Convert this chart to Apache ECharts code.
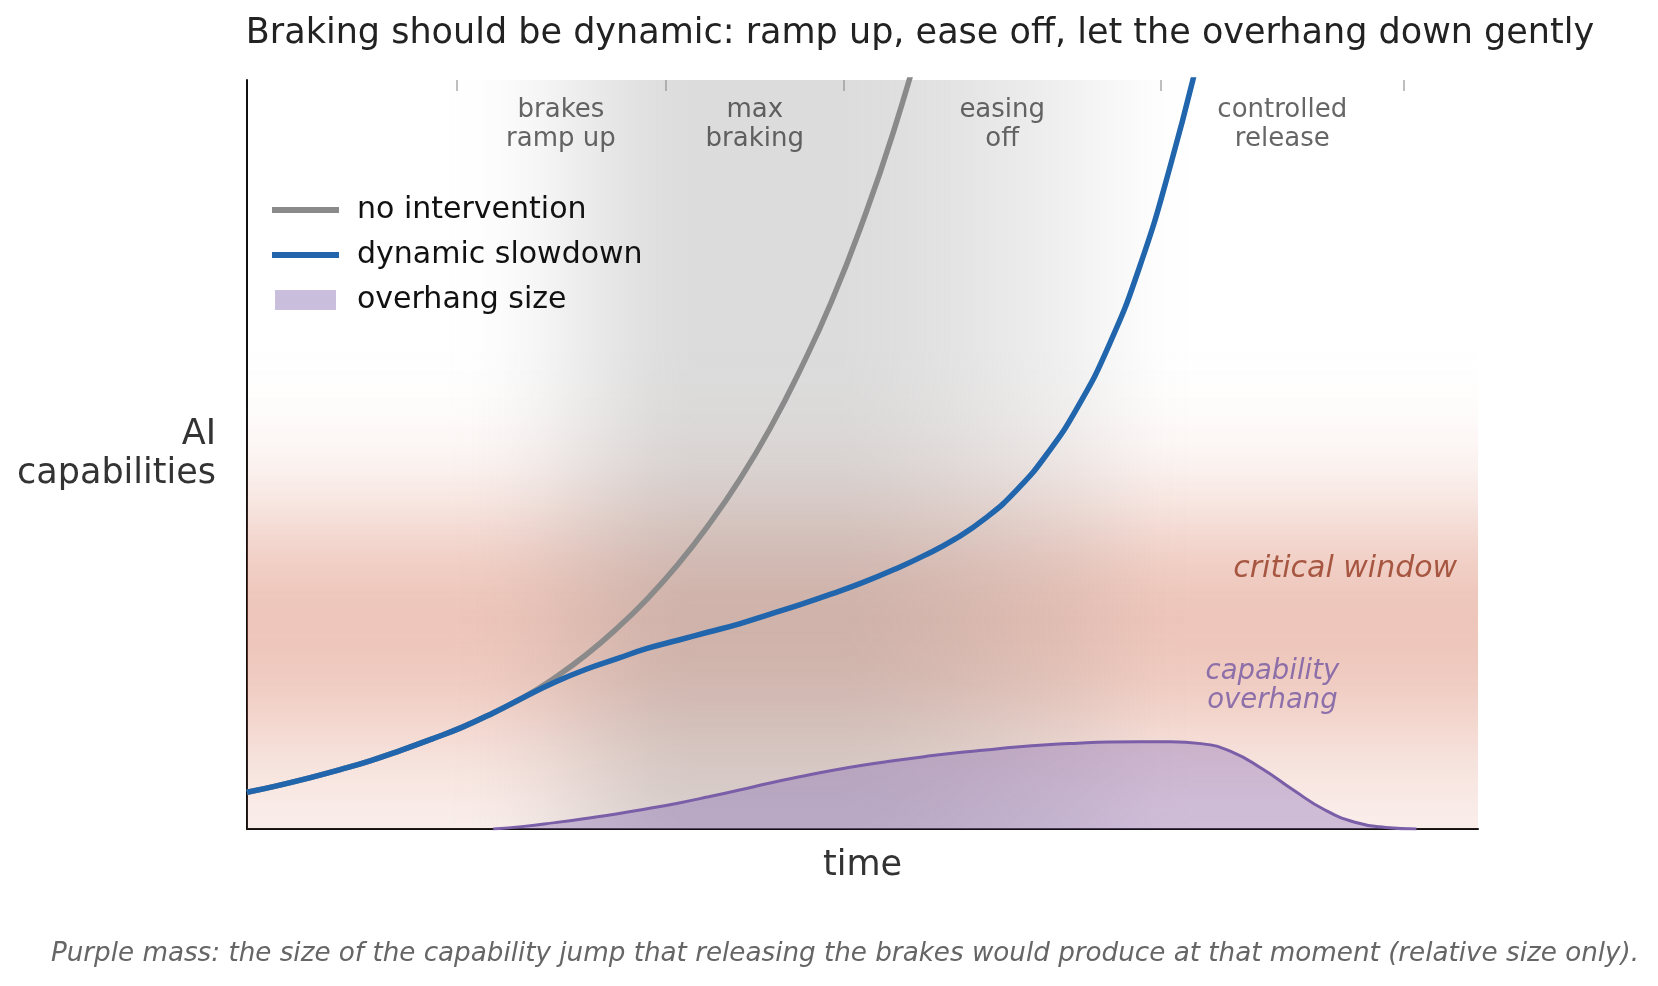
<!DOCTYPE html>
<html>
<head>
<meta charset="utf-8">
<title>Braking should be dynamic</title>
<script src="https://cdn.jsdelivr.net/npm/echarts@6.0.0/dist/echarts.min.js"></script>
<style>
  html, body { margin: 0; padding: 0; background: #fff; }
  #main { width: 1658px; height: 986px; }
</style>
</head>
<body>
<div id="main"></div>
<script>
// 時間（0–10，每 0.25 一格）
var times = [0, 0.25, 0.5, 0.75, 1, 1.25, 1.5, 1.75, 2, 2.25, 2.5, 2.75, 3, 3.25, 3.5, 3.75,
    4, 4.25, 4.5, 4.75, 5, 5.25, 5.5, 5.75, 6, 6.25, 6.5, 6.75, 7, 7.25, 7.5, 7.75,
    8, 8.25, 8.5, 8.75, 9, 9.25, 9.5, 9.75, 10];

// 不介入：指數成長
var noIntervention = [4.9, 5.8, 6.8, 7.9, 9.1, 10.5, 12.0, 13.6, 15.5, 17.6, 20.2, 23.2, 26.7, 30.7, 35.3, 40.6,
    46.6, 53.5, 61.5, 70.5, 81.0, 93.0, 107, null, null, null, null, null, null, null, null, null,
    null, null, null, null, null, null, null, null, null];

// 動態減速
var dynamicSlowdown = [4.9, 5.8, 6.8, 7.9, 9.1, 10.5, 12.0, 13.6, 15.5, 17.6, 19.6, 21.3, 22.7, 24.1, 25.2, 26.3,
    27.4, 28.7, 30.0, 31.4, 32.9, 34.6, 36.5, 38.7, 41.5, 45.2, 50.1, 56.4, 64.5, 75.0, 88.5, 104.5,
    null, null, null, null, null, null, null, null, null];

// 能力懸差（overhang）大小
var overhang = [null, null, null, null, null, null, null, null, 0, 0.35, 0.85, 1.4, 2.0, 2.7, 3.45, 4.3,
    5.2, 6.15, 7.0, 7.8, 8.5, 9.1, 9.65, 10.15, 10.55, 10.95, 11.25, 11.45, 11.6, 11.65, 11.65, 11.4,
    10.3, 8.0, 5.2, 2.6, 0.9, 0.2, 0, null, null];

// 各階段分界與名稱
var phaseBounds = [1.7, 3.4, 4.85, 7.42, 9.4];
var phaseNames = ['brakes\nramp up', 'max\nbraking', 'easing\noff', 'controlled\nrelease'];

// 煞車強度（灰色背景深淺）
var brakeX = [1.5, 1.8, 2.1, 2.4, 2.7, 3.0, 3.3, 3.6, 4.85, 5.2, 5.7, 6.2, 6.7, 7.1, 7.4, 7.7];
var brakeShade = [0, 0.005, 0.03, 0.08, 0.14, 0.2, 0.25, 0.275, 0.275, 0.26, 0.22, 0.17, 0.11, 0.05, 0.01, 0];

// 關鍵窗口（紅色背景深淺，依能力值）
var windowY = [0, 4, 8, 12, 16, 20, 24, 28, 32, 36, 40, 44, 48, 52, 56, 60, 65];
var windowShade = [0.11, 0.14, 0.18, 0.23, 0.29, 0.34, 0.37, 0.38, 0.36, 0.31, 0.24, 0.16, 0.095, 0.05, 0.022, 0.008, 0];

var FONT = 'DejaVu Sans';

function pairs(values) {
    return times.map(function (t, i) { return [t, values[i]]; });
}

var brakeStops = brakeX.map(function (x, i) {
    return {
        offset: (x - brakeX[0]) / (brakeX[brakeX.length - 1] - brakeX[0]),
        color: 'rgba(128,128,128,' + brakeShade[i] + ')'
    };
});

var windowTop = windowY[windowY.length - 1];
var windowStops = windowY.map(function (y, i) {
    return { offset: (windowTop - y) / windowTop, color: 'rgba(210,104,74,' + windowShade[i] + ')' };
}).reverse();

var phaseLabels = phaseNames.map(function (name, i) {
    return {
        value: [(phaseBounds[i] + phaseBounds[i + 1]) / 2, 94],
        label: { formatter: name, fontSize: 26, lineHeight: 29, color: '#404040' }
    };
});

var chart = echarts.init(document.getElementById('main'));

var option = {
    animation: false,
    textStyle: { fontFamily: FONT },
    grid: { left: 247, right: 180, top: 80, bottom: 157 },
    legend: {
        orient: 'vertical',
        left: 272,
        top: 195,
        padding: 0,
        itemWidth: 67,
        itemHeight: 20,
        itemGap: 15,
        textStyle: { fontSize: 30, color: '#111', fontFamily: FONT, padding: [0, 0, 0, 13] },
        data: [
            { name: 'no intervention', icon: 'path://M0,0H67V6H0Z', itemStyle: { color: '#8a8a8a' } },
            { name: 'dynamic slowdown', icon: 'path://M0,0H67V6H0Z', itemStyle: { color: '#2166ac' } },
            { name: 'overhang size', icon: 'path://M0,0H61V20H0Z', itemStyle: { color: '#c9bfdc', borderWidth: 0 } }
        ]
    },
    xAxis: [{
        type: 'value',
        min: 0,
        max: 10,
        name: 'time',
        nameLocation: 'middle',
        nameGap: 37,
        nameTextStyle: { fontSize: 35, color: '#333', verticalAlign: 'middle' },
        axisLine: { show: true, lineStyle: { color: '#111', width: 2 } },
        axisTick: { show: false },
        axisLabel: { show: false },
        splitLine: { show: false }
    }, {
        type: 'value',
        position: 'top',
        min: 0,
        max: 10,
        axisLine: { show: false },
        axisTick: { show: true, inside: true, length: 11, customValues: phaseBounds,
            lineStyle: { color: '#aaa', width: 1.5 } },
        axisLabel: { show: false },
        splitLine: { show: false }
    }],
    yAxis: {
        type: 'value',
        min: 0,
        max: 100,
        name: 'AI\ncapabilities',
        nameLocation: 'middle',
        nameRotate: 0,
        nameGap: 31,
        nameTextStyle: { fontSize: 35, color: '#333', align: 'right', verticalAlign: 'middle', lineHeight: 39 },
        axisLine: { show: true, lineStyle: { color: '#111', width: 2 } },
        axisTick: { show: false },
        axisLabel: { show: false },
        splitLine: { show: false }
    },
    graphic: [{
        type: 'text',
        x: 920,
        y: 34,
        style: { text: 'Braking should be dynamic: ramp up, ease off, let the overhang down gently',
            font: '35px "DejaVu Sans"', fill: '#222', align: 'center', verticalAlign: 'middle' }
    }, {
        type: 'text',
        x: 845,
        y: 954,
        style: { text: 'Purple mass: the size of the capability jump that releasing the brakes would produce at that moment (relative size only).',
            font: 'italic 26.2px "DejaVu Sans"', fill: '#666', align: 'center', verticalAlign: 'middle' }
    }],
    series: [{
        name: 'critical band',
        type: 'line',
        data: [[0, 0]],
        symbol: 'none',
        silent: true,
        lineStyle: { opacity: 0 },
        z: 0,
        markArea: {
            silent: true,
            itemStyle: { color: { type: 'linear', x: 0, y: 0, x2: 0, y2: 1, colorStops: windowStops } },
            data: [[{ xAxis: 0, yAxis: 0 }, { xAxis: 10, yAxis: windowTop }]]
        }
    }, {
        name: 'brake band',
        type: 'line',
        data: [[0, 0]],
        symbol: 'none',
        silent: true,
        lineStyle: { opacity: 0 },
        z: 1,
        markArea: {
            silent: true,
            itemStyle: { color: { type: 'linear', x: 0, y: 0, x2: 1, y2: 0, colorStops: brakeStops } },
            data: [[{ xAxis: brakeX[0], yAxis: 0 }, { xAxis: brakeX[brakeX.length - 1], yAxis: 100 }]]
        }
    }, {
        name: 'overhang size',
        type: 'line',
        data: pairs(overhang),
        smooth: 0.5,
        symbol: 'none',
        z: 2,
        lineStyle: { color: '#7a5ea8', width: 3 },
        itemStyle: { color: '#7a5ea8' },
        areaStyle: { color: 'rgba(128,100,180,0.5)', origin: 'start' }
    }, {
        name: 'no intervention',
        type: 'line',
        data: pairs(noIntervention),
        smooth: 0.5,
        symbol: 'none',
        z: 3,
        lineStyle: { color: '#8a8a8a', width: 5.5 },
        itemStyle: { color: '#8a8a8a' }
    }, {
        name: 'dynamic slowdown',
        type: 'line',
        data: pairs(dynamicSlowdown),
        smooth: 0.5,
        symbol: 'none',
        z: 4,
        lineStyle: { color: '#2166ac', width: 5.5 },
        itemStyle: { color: '#2166ac' }
    }, {
        name: 'annotations',
        type: 'scatter',
        symbolSize: 0.1,
        silent: true,
        z: 5,
        itemStyle: { color: 'transparent' },
        label: { show: true, position: 'inside', fontFamily: FONT },
        data: phaseLabels.concat([{
            value: [9.83, 34.7],
            label: { formatter: 'critical window', align: 'right', fontSize: 30, fontStyle: 'italic', color: '#943820' }
        }, {
            value: [8.33, 19.1],
            label: { formatter: 'capability\noverhang', fontSize: 27.5, lineHeight: 29, fontStyle: 'italic', color: '#7457a3' }
        }])
    }]
};

chart.setOption(option);
</script>
</body>
</html>
